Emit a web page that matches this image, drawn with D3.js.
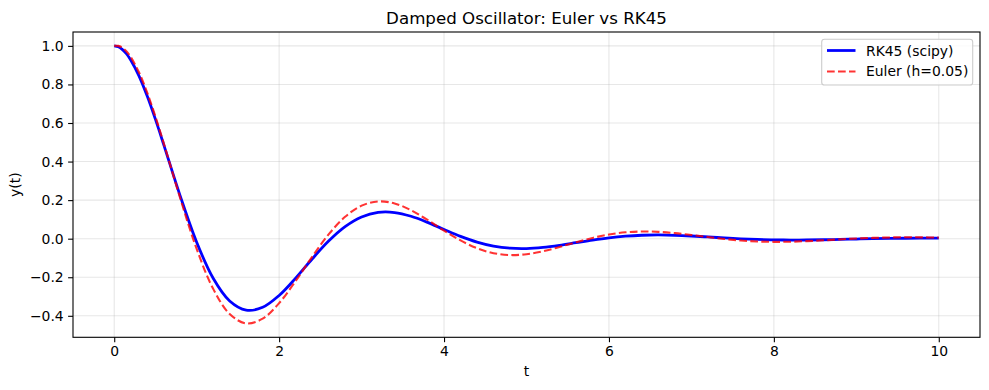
<!DOCTYPE html>
<html>
<head>
<meta charset="utf-8">
<script src="https://cdn.jsdelivr.net/npm/d3@7"></script>
<style>
  html, body { margin: 0; padding: 0; background: #ffffff; }
  svg { display: block; font-family: "DejaVu Sans", sans-serif; }
</style>
</head>
<body>
<svg id="chart" width="989" height="390"></svg>
<script>
// ---- Data ----
const tValues = [0, 0.05, 0.1, 0.15, 0.2, 0.3, 0.4, 0.5, 0.6, 0.8, 1.0, 1.2, 1.4, 1.6, 1.8,
  2.0, 2.2, 2.4, 2.6, 2.8, 3.0, 3.2, 3.4, 3.6, 3.8,
  4.0, 4.2, 4.4, 4.6, 4.8, 5.0, 5.2, 5.4, 5.6, 5.8,
  6.0, 6.2, 6.4, 6.6, 6.8, 7.0, 7.2, 7.4, 7.6, 7.8,
  8.0, 8.2, 8.4, 8.6, 8.8, 9.0, 9.2, 9.4, 9.6, 9.8, 10.0];

const rk45Values = [1.0000, 0.9951, 0.9808, 0.9579, 0.9270, 0.8444, 0.7395, 0.6186, 0.4882, 0.2219,
  -0.0186, -0.2053, -0.3232, -0.3707, -0.3560,
  -0.2944, -0.2047, -0.1054, -0.0125, 0.0624, 0.1125, 0.1361, 0.1356, 0.1162, 0.0846,
  0.0478, 0.0122, -0.0175, -0.0384, -0.0495, -0.0513, -0.0454, -0.0345, -0.0210, -0.0075,
  0.0042, 0.0128, 0.0178, 0.0192, 0.0176, 0.0139, 0.0090, 0.0039, -0.0006, -0.0041,
  -0.0063, -0.0071, -0.0068, -0.0056, -0.0038, -0.0019, -0.0001, 0.0013, 0.0022, 0.0026, 0.0026];

const eulerValues = [1.0000, 1.0000, 0.9900, 0.9706, 0.9425, 0.8629, 0.7575, 0.6330, 0.4959, 0.2102,
  -0.0533, -0.2602, -0.3905, -0.4395, -0.4150,
  -0.3342, -0.2195, -0.0939, 0.0222, 0.1135, 0.1712, 0.1932, 0.1827, 0.1475, 0.0971,
  0.0419, -0.0092, -0.0495, -0.0751, -0.0849, -0.0805, -0.0651, -0.0430, -0.0187, 0.0038,
  0.0216, 0.0329, 0.0373, 0.0354, 0.0287, 0.0190, 0.0084, -0.0016, -0.0094, -0.0144,
  -0.0164, -0.0156, -0.0127, -0.0084, -0.0037, 0.0006, 0.0041, 0.0063, 0.0072, 0.0069, 0.0056];

const xTicks = [0, 2, 4, 6, 8, 10];
const yTicks = [-0.4, -0.2, 0.0, 0.2, 0.4, 0.6, 0.8, 1.0];
const seriesNames = ["RK45 (scipy)", "Euler (h=0.05)"];
const titleText = "Damped Oscillator: Euler vs RK45";
const xLabelText = "t";
const yLabelText = "y(t)";

// ---- Layout ----
const svg = d3.select("#chart");
const L = 73, R = 980, T = 32, B = 337.3;
const fs = 13.9;

const x = d3.scaleLinear().domain([-0.5, 10.5]).range([L, R]);
const y = d3.scaleLinear().domain([-0.5115, 1.072]).range([B, T]);

// Grid
const grid = svg.append("g");
grid.selectAll("line.gx").data(xTicks).enter().append("line")
  .attr("x1", d => x(d)).attr("x2", d => x(d)).attr("y1", T).attr("y2", B)
  .attr("stroke", "#b0b0b0").attr("stroke-opacity", 0.3).attr("stroke-width", 1.1);
grid.selectAll("line.gy").data(yTicks).enter().append("line")
  .attr("y1", d => y(d)).attr("y2", d => y(d)).attr("x1", L).attr("x2", R)
  .attr("stroke", "#b0b0b0").attr("stroke-opacity", 0.3).attr("stroke-width", 1.1);

// Lines
const rkData = tValues.map((t, i) => [t, rk45Values[i]]);
const euData = tValues.map((t, i) => [t, eulerValues[i]]);
const line = d3.line().x(d => x(d[0])).y(d => y(d[1])).curve(d3.curveCatmullRom.alpha(0.5));

svg.append("path").datum(rkData).attr("d", line)
  .attr("fill", "none").attr("stroke", "#0000ff").attr("stroke-width", 2.78)
  .attr("stroke-linejoin", "round");
svg.append("path").datum(euData).attr("d", line)
  .attr("fill", "none").attr("stroke", "#ff0000").attr("stroke-opacity", 0.8)
  .attr("stroke-width", 2.08).attr("stroke-dasharray", "7.7,3.3")
  .attr("stroke-linejoin", "round");

// Axes
const xAxis = d3.axisBottom(x).tickValues(xTicks).tickSize(4.9).tickPadding(4.4)
  .tickFormat(d3.format("d"));
const yAxis = d3.axisLeft(y).tickValues(yTicks).tickSize(4.9).tickPadding(4.4)
  .tickFormat(d => d3.format(".1f")(d).replace("-", "\u2212"));

const gx = svg.append("g").attr("transform", `translate(0,${B})`).call(xAxis);
const gy = svg.append("g").attr("transform", `translate(${L},0)`).call(yAxis);
[gx, gy].forEach(g => {
  g.select(".domain").remove();
  g.selectAll(".tick line").attr("stroke", "#000").attr("stroke-width", 1.1);
  g.selectAll(".tick text").attr("fill", "#000").style("font-size", fs + "px")
    .style("font-family", "DejaVu Sans");
});

// Frame
svg.append("rect").attr("x", L).attr("y", T).attr("width", R - L).attr("height", B - T)
  .attr("fill", "none").attr("stroke", "#000").attr("stroke-width", 1.1);

// Title and labels
svg.append("text").attr("x", (L + R) / 2).attr("y", 23.7).attr("text-anchor", "middle")
  .style("font-size", "16.67px").attr("fill", "#000").text(titleText);
svg.append("text").attr("x", (L + R) / 2).attr("y", 375.5).attr("text-anchor", "middle")
  .style("font-size", fs + "px").attr("fill", "#000").text(xLabelText);
svg.append("text").attr("transform", `translate(20,${(T + B) / 2}) rotate(-90)`)
  .attr("text-anchor", "middle").style("font-size", fs + "px").attr("fill", "#000").text(yLabelText);

// Legend
const lg = svg.append("g");
lg.append("rect").attr("x", 821.7).attr("y", 39.3).attr("width", 151).attr("height", 45.7)
  .attr("rx", 2.8).attr("fill", "#ffffff").attr("fill-opacity", 0.8)
  .attr("stroke", "#cccccc").attr("stroke-width", 1.1);
const legendItems = [
  { name: seriesNames[0], color: "#0000ff", op: 1, w: 2.78, dash: null, cy: 50.5, ty: 55.5 },
  { name: seriesNames[1], color: "#ff0000", op: 0.8, w: 2.08, dash: "7.7,3.3", cy: 71.5, ty: 76.2 }
];
legendItems.forEach(it => {
  const ln = lg.append("line").attr("x1", 827).attr("x2", 855.5).attr("y1", it.cy).attr("y2", it.cy)
    .attr("stroke", it.color).attr("stroke-opacity", it.op).attr("stroke-width", it.w);
  if (it.dash) ln.attr("stroke-dasharray", it.dash);
  lg.append("text").attr("x", 866).attr("y", it.ty).style("font-size", fs + "px")
    .attr("fill", "#000").text(it.name);
});
</script>
</body>
</html>
